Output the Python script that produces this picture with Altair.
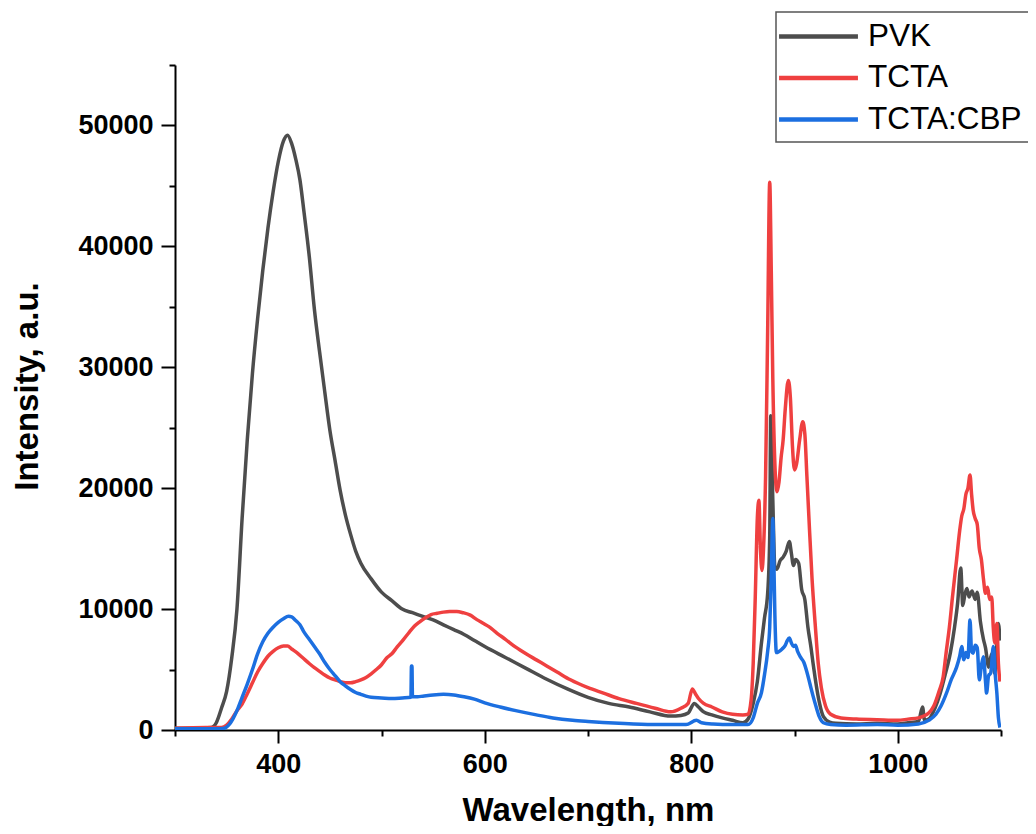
import altair as alt
import pandas as pd

series_names = ["PVK", "TCTA", "TCTA:CBP"]
series_colors = ["#4d4d4d", "#ef4040", "#1c6fe0"]

pvk_wl = [300, 320, 335, 340, 345, 350, 355, 360, 365, 370, 375, 380, 385, 390, 395, 400, 405, 409, 413, 417,
          421, 425, 430, 435, 440, 445, 450, 455, 460, 465, 470, 475, 480, 490, 500, 510, 520, 530, 540, 550,
          560, 570, 580, 590, 600, 620, 640, 660, 680, 700, 720, 740, 760, 780, 790, 797, 803, 807, 812, 820,
          830, 840, 850, 855, 860, 864, 868, 871, 874, 876, 877, 879, 881, 883, 886, 889, 892, 895, 897, 899,
          901, 904, 907, 910, 913, 916, 918, 920, 924, 928, 934, 940, 960, 980, 1000, 1010, 1020, 1024, 1026, 1030,
          1036, 1041, 1046, 1051, 1055, 1058, 1061, 1063, 1065, 1067, 1069, 1072, 1075, 1077, 1080, 1083, 1085, 1088,
          1091, 1094, 1096, 1097.5, 1099]
pvk_int = [150, 150, 200, 600, 1800, 3200, 6000, 10000, 17500, 24000, 29500, 34000, 38000, 41500, 44500, 47000, 48700, 49200, 48500, 47200,
           45500, 42800, 39200, 34800, 31300, 28000, 24800, 22300, 19800, 17800, 16200, 14800, 13800, 12500, 11400, 10700, 10000, 9700, 9400, 9100,
           8700, 8300, 7900, 7400, 6900, 6000, 5100, 4200, 3400, 2700, 2200, 1900, 1500, 1150, 1200, 1400, 2200, 1900, 1500, 1250,
           1000, 800, 600, 900, 2200, 4000, 7200, 9300, 11300, 16000, 26000, 19000, 13500, 13300, 14000, 14300, 14800, 15600, 14600, 13600,
           14100, 13800, 11600, 10800, 8500, 6800, 5500, 4300, 2300, 1100, 650, 550, 500, 550, 500, 600, 700, 1900, 800, 900,
           1800, 3000, 4600, 6400, 8500, 10500, 13400, 10300, 11200, 11700, 11000, 11500, 10800, 11400, 9000, 7500, 6800, 5200,
           6300, 4700, 7000, 8800, 7400]

tcta_wl = [300, 330, 345, 350, 355, 360, 365, 370, 375, 380, 385, 390, 395, 400, 405, 409, 413, 418, 424, 430,
           435, 440, 445, 450, 455, 460, 465, 470, 475, 480, 485, 490, 495, 500, 505, 510, 515, 521, 527, 532,
           537, 543, 548, 554, 560, 566, 573, 579, 586, 592, 598, 604, 612, 620, 630, 640, 650, 660, 670, 683,
           700, 715, 730, 747, 765, 780, 790, 797, 801, 804, 807, 812, 820, 830, 840, 850, 855, 858, 860, 862,
           864, 865.5, 867, 868.5, 870, 872, 874, 876, 877.5, 879, 881, 883, 885, 887, 889, 891, 894, 896, 898, 900,
           902, 905, 908, 910, 912, 914, 917, 920, 923, 926, 930, 935, 945, 960, 980, 1000, 1010, 1020, 1030, 1035,
           1040, 1044, 1047, 1050, 1053, 1057, 1060, 1062, 1064, 1066, 1068, 1070, 1071.5, 1073, 1075, 1077, 1079, 1081,
           1083, 1085, 1087, 1089, 1091, 1092.5, 1094, 1096, 1097.5, 1099]
tcta_int = [150, 200, 200, 400, 900, 1600, 2150, 3000, 3900, 4800, 5500, 6100, 6500, 6800, 6950, 6950, 6700, 6400, 5950, 5500,
            5150, 4850, 4550, 4300, 4150, 4000, 3900, 3900, 4000, 4150, 4350, 4650, 5000, 5400, 5950, 6300, 6850, 7450, 8100, 8600,
            8950, 9300, 9550, 9650, 9750, 9800, 9800, 9700, 9500, 9150, 8850, 8550, 8000, 7500, 6850, 6300, 5800, 5300, 4800, 4150,
            3500, 3050, 2600, 2200, 1800, 1500, 1800, 2200, 3400, 3000, 2600, 2200, 1900, 1500, 1300, 1250, 1300, 2500, 5500, 11000,
            17500, 19000, 15000, 13200, 15000, 21000, 33000, 45300, 38000, 29000, 22000, 19700, 20500, 22500, 24000, 26500, 28900, 27500, 23500, 21500,
            22000, 24000, 25500, 24500, 21000, 17500, 12500, 8800, 5500, 3500, 2000, 1300, 1000, 900, 850, 800, 900, 1000, 1400, 2000,
            3200, 4400, 6500, 8500, 11000, 14100, 16500, 17700, 18300, 19500, 20000, 21100, 19500, 18200, 17500, 17000, 15000, 14100,
            12500, 11300, 11800, 10800, 11000, 8500, 7200, 8800, 5500, 4000]

cbp_wl = [300, 340, 348, 352, 356, 360, 365, 370, 375, 380, 385, 390, 395, 400, 405, 410, 413, 417, 421, 425,
          430, 435, 440, 445, 450, 455, 460, 465, 470, 475, 480, 485, 490, 500, 510, 520, 528.5, 529, 529.5, 530,
          535, 540, 550, 560, 570, 580, 590, 600, 615, 630, 650, 666, 685, 700, 730, 763, 795, 805, 810, 821,
          840, 855, 860, 864, 868, 871, 874, 876, 877.5, 879, 880, 881, 882.5, 885, 888, 891, 893, 895, 897, 899,
          901, 903, 906, 909, 912, 915, 918, 921, 924, 928, 935, 950, 980, 1000, 1020, 1030, 1037, 1042, 1047, 1052,
          1057, 1060, 1062, 1064, 1066, 1068, 1070, 1071.5, 1073, 1075, 1077, 1079, 1081, 1083, 1085, 1086, 1088, 1090,
          1092.6, 1094.5, 1096, 1097.5, 1099]
cbp_int = [100, 100, 150, 400, 900, 1600, 2700, 3800, 5000, 6300, 7300, 8000, 8500, 8900, 9200, 9400, 9350, 9050, 8700, 8100,
           7500, 6900, 6300, 5600, 5000, 4500, 4000, 3650, 3350, 3100, 2950, 2800, 2700, 2650, 2600, 2650, 2700, 5300, 5300, 2750,
           2750, 2800, 2900, 2950, 2900, 2750, 2550, 2250, 1900, 1600, 1250, 1000, 800, 700, 550, 450, 450, 800, 600, 500,
           450, 450, 1000, 2200, 3100, 4600, 6500, 8500, 12700, 17500, 14000, 9500, 6400, 6500, 6700, 7000, 7400, 7600, 7200, 6900,
           7000, 6500, 6000, 5600, 4800, 3800, 2800, 1900, 1100, 600, 450, 400, 450, 400, 500, 800, 1300, 2000, 3000, 4200,
           5200, 6100, 6900, 5800, 6400, 6000, 9100, 6500, 6350, 7000, 6800, 4150, 5300, 6050, 4000, 3050, 4500, 4700,
           6900, 4500, 3050, 1000, 200]

x_ticks = list(range(300, 1101, 100))
y_ticks = list(range(0, 55001, 5000))

rows = []
for name, wl, val in [("PVK", pvk_wl, pvk_int), ("TCTA", tcta_wl, tcta_int), ("TCTA:CBP", cbp_wl, cbp_int)]:
    for i, (w, v) in enumerate(zip(wl, val)):
        rows.append({"series": name, "wl": w, "val": v, "idx": i})
df = pd.DataFrame(rows)

FONT = "Liberation Sans"

x_axis = alt.Axis(
    values=x_ticks,
    tickSize={"condition": {"test": "datum.value % 200 === 0", "value": 13}, "value": 6},
    labelExpr="datum.value % 200 === 0 ? datum.label : ''",
    format="d",
    domainColor="black", domainWidth=2, tickColor="black", tickWidth=2,
    labelFont=FONT, labelFontWeight="bold", labelFontSize=27, labelColor="black",
    labelPadding=8, labelFlush=False, labelOverlap=False,
    title="Wavelength, nm", titleFont=FONT, titleFontSize=33, titleFontWeight="bold",
    titleColor="black", titleY=90, titleBaseline="alphabetic", grid=False,
)
y_axis = alt.Axis(
    values=y_ticks,
    tickSize={"condition": {"test": "datum.value % 10000 === 0", "value": 14}, "value": 6},
    labelExpr="datum.value % 10000 === 0 ? datum.label : ''",
    format="d",
    domainColor="black", domainWidth=2, tickColor="black", tickWidth=2,
    labelFont=FONT, labelFontWeight="bold", labelFontSize=27, labelColor="black",
    labelPadding=8, labelFlush=False, labelOverlap=False,
    title="Intensity, a.u.", titleFont=FONT, titleFontSize=33, titleFontWeight="bold",
    titleColor="black", titleX=-138, titleY=321, titleBaseline="alphabetic", grid=False,
)

legend = alt.Legend(
    orient="none", legendX=601, legendY=-53, title=None,
    symbolType="M-2.63,0L2.63,0", symbolSize=900, symbolStrokeWidth=4.5,
    symbolOffset=18, labelOffset=32, padding=7, rowPadding=8.5,
    labelFont=FONT, labelFontSize=31.5, labelColor="black", labelLimit=400,
    strokeColor="#555555", fillColor="white",
)

base = alt.Chart(df).mark_line(strokeWidth=3.5, interpolate="monotone", clip=True).encode(
    x=alt.X("wl:Q", scale=alt.Scale(domain=[300, 1100], nice=False, zero=False), axis=x_axis),
    y=alt.Y("val:Q", scale=alt.Scale(domain=[0, 55000], nice=False), axis=y_axis),
    color=alt.Color("series:N", scale=alt.Scale(domain=series_names, range=series_colors), legend=legend),
    order="idx:Q",
)

layers = [base.transform_filter(alt.datum.series == s) for s in series_names]

chart = alt.layer(*layers).properties(
    width=826, height=665,
    autosize=alt.AutoSizeParams(type="none"),
    padding={"left": 167, "top": 57, "right": 27, "bottom": 96},
).configure_view(stroke=None).configure_legend(strokeWidth=1.5)

chart.save("out.html", embed_options={"renderer": "svg", "actions": False})
